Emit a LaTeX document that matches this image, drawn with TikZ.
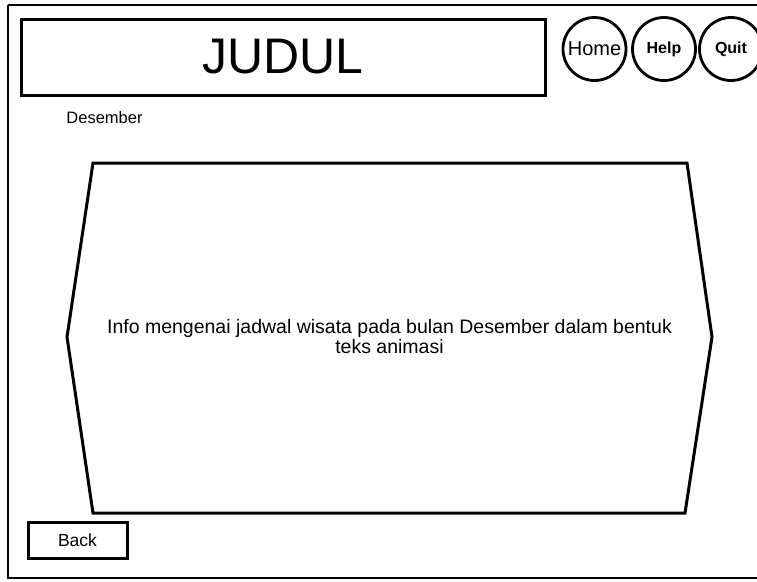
\documentclass[tikz,border=0pt]{standalone}
\usepackage{fontspec}
\setmainfont{Liberation Sans}
\usetikzlibrary{calc}

\tikzset{
  box/.style={draw, line width=3pt, inner sep=0pt},
  navbtn/.style={draw, circle, line width=2.8pt, minimum size=63pt, inner sep=0pt},
}

\begin{document}
\begin{tikzpicture}[x=1pt, y=-1pt]
  \clip (0,0) rectangle (757,581);
  \fill[white] (0,0) rectangle (757,581);

  % frame of the page
  \draw[line width=2.6pt] (8,5) -- (770,5);
  \draw[line width=2.6pt] (8,5) -- (8,578) -- (770,578);

  % header
  \node[box, minimum width=524pt, minimum height=76pt] (title) at (283,57)
    {\fontsize{50}{50}\selectfont JUDUL};
  \node[navbtn] (home) at (594.5,49) {\fontsize{20}{20}\selectfont Home};
  \node[navbtn] (help) at (664,49) {\fontsize{16}{16}\selectfont\bfseries Help};
  \node[navbtn] (quit) at (731,49) {\fontsize{16}{16}\selectfont\bfseries Quit};

  \node (month) at (104.5,118) {\fontsize{16.5}{16.5}\selectfont Desember};

  % content panel
  \coordinate (A) at (93,163);
  \coordinate (B) at (687,163);
  \coordinate (C) at (712,337);
  \coordinate (D) at (685,513);
  \coordinate (E) at (93,513);
  \coordinate (F) at (67,337);
  \draw[line width=3pt, line join=miter] (A) -- (B) -- (C) -- (D) -- (E) -- (F) -- cycle;

  \node[align=center, font=\fontsize{19.5}{20}\selectfont] (info) at ($(F)!0.5!(C)$)
    {Info mengenai jadwal wisata pada bulan Desember dalam bentuk\\
     teks animasi};

  % footer
  \node[box, minimum width=99pt, minimum height=36pt] (back) at (77.5,540)
    {\fontsize{17.5}{17.5}\selectfont Back};
\end{tikzpicture}
\end{document}
